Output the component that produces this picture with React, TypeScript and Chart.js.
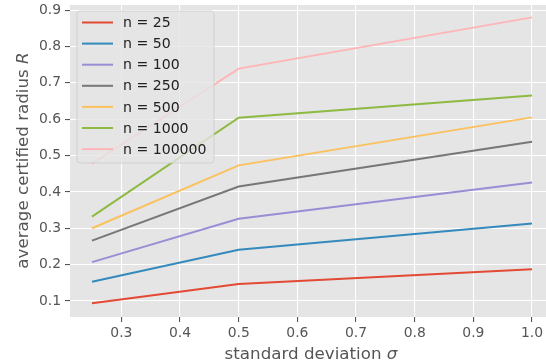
import React, { useEffect, useRef } from 'react';
import { Chart, registerables } from 'chart.js';
Chart.register(...registerables);

const sigmas = [0.25, 0.5, 1.0];
const seriesLabels = ['n = 25', 'n = 50', 'n = 100', 'n = 250', 'n = 500', 'n = 1000', 'n = 100000'];
const r25 = [0.094, 0.147, 0.187];
const r50 = [0.153, 0.241, 0.313];
const r100 = [0.207, 0.326, 0.426];
const r250 = [0.266, 0.415, 0.538];
const r500 = [0.300, 0.473, 0.605];
const r1000 = [0.332, 0.604, 0.665];
const r100000 = [0.478, 0.739, 0.880];
const seriesValues = [r25, r50, r100, r250, r500, r1000, r100000];
const colors = ['#E24A33', '#348ABD', '#988ED5', '#777777', '#FBC15E', '#8EBA42', '#FFB5B8'];
const xTicks = [0.3, 0.4, 0.5, 0.6, 0.7, 0.8, 0.9, 1.0];
const yTicks = [0.1, 0.2, 0.3, 0.4, 0.5, 0.6, 0.7, 0.8, 0.9];
const xLabelText = 'standard deviation ';
const xLabelMath = 'σ';
const yLabelText = 'average certified radius ';
const yLabelMath = 'R';

const FONT = "'DejaVu Sans', sans-serif";

const bgPlugin = {
  id: 'bgPlugin',
  beforeDraw(chart: any) {
    const { ctx, chartArea } = chart;
    ctx.save();
    ctx.fillStyle = '#ffffff';
    ctx.fillRect(0, 0, chart.width, chart.height);
    ctx.fillStyle = '#E5E5E5';
    ctx.fillRect(chartArea.left, chartArea.top, chartArea.right - chartArea.left, chartArea.bottom - chartArea.top);
    ctx.restore();
  },
};

function drawMixed(ctx: any, normal: string, italic: string, size: number) {
  ctx.font = `${size}px ${FONT}`;
  const w1 = ctx.measureText(normal).width;
  ctx.font = `oblique ${size}px ${FONT}`;
  const w2 = ctx.measureText(italic).width;
  const total = w1 + w2;
  ctx.font = `${size}px ${FONT}`;
  ctx.fillText(normal, -total / 2, 0);
  ctx.font = `oblique ${size}px ${FONT}`;
  ctx.fillText(italic, -total / 2 + w1, 0);
}

const overlayPlugin = {
  id: 'overlayPlugin',
  afterDraw(chart: any) {
    const { ctx, chartArea } = chart;
    ctx.save();
    // axis titles
    ctx.fillStyle = '#555555';
    ctx.textBaseline = 'alphabetic';
    ctx.textAlign = 'left';
    ctx.save();
    ctx.translate(311, 358.5);
    drawMixed(ctx, xLabelText, xLabelMath, 16.7);
    ctx.restore();
    ctx.save();
    ctx.translate(28, 160.5);
    ctx.rotate(-Math.PI / 2);
    drawMixed(ctx, yLabelText, yLabelMath, 16.7);
    ctx.restore();

    // legend
    const x0 = chartArea.left + 7;
    const y0 = chartArea.top + 6;
    const w = 137;
    const h = 152;
    const r = 3;
    ctx.beginPath();
    ctx.moveTo(x0 + r, y0);
    ctx.lineTo(x0 + w - r, y0);
    ctx.arcTo(x0 + w, y0, x0 + w, y0 + r, r);
    ctx.lineTo(x0 + w, y0 + h - r);
    ctx.arcTo(x0 + w, y0 + h, x0 + w - r, y0 + h, r);
    ctx.lineTo(x0 + r, y0 + h);
    ctx.arcTo(x0, y0 + h, x0, y0 + h - r, r);
    ctx.lineTo(x0, y0 + r);
    ctx.arcTo(x0, y0, x0 + r, y0, r);
    ctx.closePath();
    ctx.fillStyle = 'rgba(229,229,229,0.8)';
    ctx.fill();
    ctx.strokeStyle = 'rgba(204,204,204,0.8)';
    ctx.lineWidth = 1;
    ctx.stroke();

    ctx.font = `14.1px ${FONT}`;
    ctx.textBaseline = 'middle';
    ctx.textAlign = 'left';
    seriesLabels.forEach((lab, i) => {
      const cy = y0 + 11.5 + i * 21.1;
      ctx.strokeStyle = colors[i];
      ctx.lineWidth = 2;
      ctx.beginPath();
      ctx.moveTo(x0 + 5, cy);
      ctx.lineTo(x0 + 36, cy);
      ctx.stroke();
      ctx.fillStyle = '#222222';
      ctx.fillText(lab, x0 + 46, cy + 1);
    });
    ctx.restore();
  },
};

export default function App() {
  const ref = useRef<HTMLCanvasElement | null>(null);
  useEffect(() => {
    document.body.style.margin = '0';
    const canvas = ref.current!;
    const datasets = seriesValues.map((vals, i) => ({
      label: seriesLabels[i],
      data: sigmas.map((s, j) => ({ x: s, y: vals[j] })),
      borderColor: colors[i],
      backgroundColor: colors[i],
      borderWidth: 2,
      pointRadius: 0,
      tension: 0,
      fill: false,
    }));
    const chart = new Chart(canvas, {
      type: 'line',
      data: { datasets },
      plugins: [bgPlugin, overlayPlugin],
      options: {
        animation: false,
        responsive: false,
        devicePixelRatio: 1,
        layout: { padding: { top: 5, left: 0, right: 0, bottom: 0 } },
        plugins: { legend: { display: false }, tooltip: { enabled: false } },
        scales: {
          x: {
            type: 'linear',
            min: 0.2125,
            max: 1.0238,
            border: { display: false },
            grid: { color: '#ffffff', lineWidth: 1.1, tickColor: '#555555', tickLength: 5, drawTicks: true },
            ticks: {
              color: '#555555',
              font: { family: FONT, size: 13.9 },
              padding: 3,
              maxRotation: 0,
              callback: (v: any) => Number(v).toFixed(1),
            },
            afterBuildTicks: (s: any) => { s.ticks = xTicks.map((v) => ({ value: v })); },
            afterFit: (s: any) => {
              s.height = 47;
              s.paddingLeft = 0; s.paddingRight = 0; s.paddingTop = 0; s.paddingBottom = 0;
            },
          },
          y: {
            type: 'linear',
            min: 0.056,
            max: 0.914,
            border: { display: false },
            grid: { color: '#ffffff', lineWidth: 1.1, tickColor: '#555555', tickLength: 5, drawTicks: true },
            ticks: {
              color: '#555555',
              font: { family: FONT, size: 13.9 },
              padding: 4,
              callback: (v: any) => Number(v).toFixed(1),
            },
            afterBuildTicks: (s: any) => { s.ticks = yTicks.map((v) => ({ value: v })); },
            afterFit: (s: any) => {
              s.width = 70;
              s.paddingLeft = 0; s.paddingRight = 0; s.paddingTop = 0; s.paddingBottom = 0;
            },
          },
        },
      },
    } as any);
    return () => chart.destroy();
  }, []);
  return <canvas ref={ref} width={546} height={364} style={{ display: 'block', width: 546, height: 364 }} />;
}
